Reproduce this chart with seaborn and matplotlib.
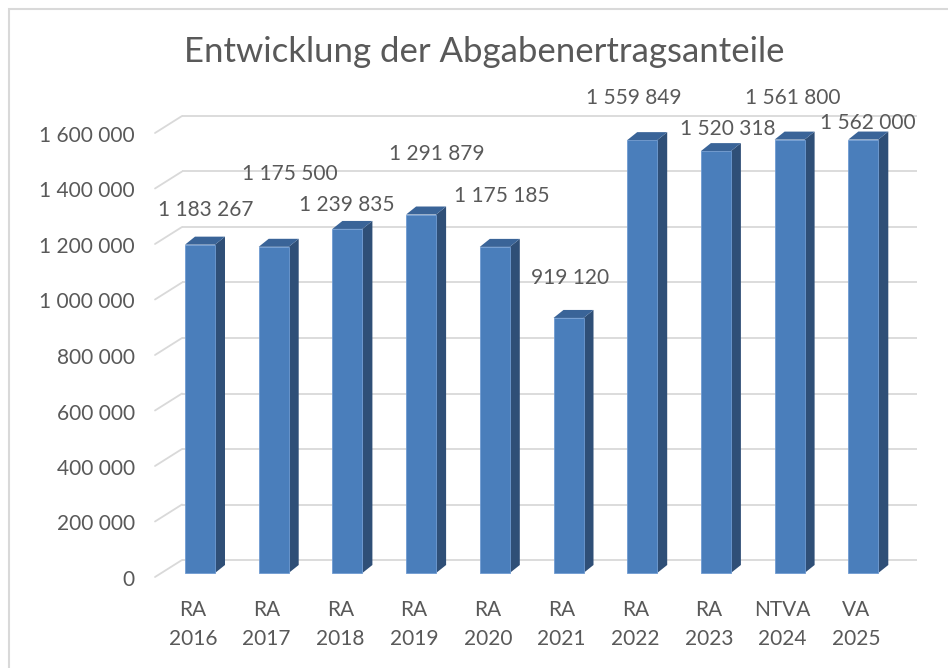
import numpy as np
import pandas as pd
import seaborn as sns
import matplotlib.pyplot as plt
from matplotlib.patches import Polygon, Rectangle

sns.set_theme(style='white')
plt.rcParams['font.family'] = ['Lato', 'DejaVu Sans']

# data
categories = ['RA\n2016', 'RA\n2017', 'RA\n2018', 'RA\n2019', 'RA\n2020',
              'RA\n2021', 'RA\n2022', 'RA\n2023', 'NTVA\n2024', 'VA\n2025']
values = [1183267, 1175500, 1239835, 1291879, 1175185,
          919120, 1559849, 1520318, 1561800, 1562000]
yticks = np.arange(0, 1600001, 200000)
title = 'Entwicklung der Abgabenertragsanteile'

# label offsets in pixels (x, y) relative to bar top centre
lab_off = [(6, 35), (16, 73), (-1, 24), (16, 61), (7, 51),
           (2, 40), (-8, 42), (12, 22), (3, 42), (5, 17)]

def fmt(v):
    return f'{v:,}'.replace(',', ' ')

W, H = 948, 668
fig = plt.figure(figsize=(W/100, H/100), dpi=100)
fig.patch.set_facecolor('white')

# pixel geometry
px_x = 73.7          # pixels per category
px_y = 277.5e-6      # pixels per unit value
x0_pix, base_pix = 200, 573
left, right, top, bottom = 150, 925, 100, 590
ax = fig.add_axes([left/W, (H-bottom)/H, (right-left)/W, (bottom-top)/H])

def dx(p):
    return p/px_x

def dy(p):
    return p/px_y

grid_c = '#d9d9d9'
txt_c = '#595959'
front_c = '#4a7ebb'
side_c = '#2f4f77'
top_c = '#3a6498'

# back wall gridlines with diagonal floor lines
gx_start = (182-x0_pix)/px_x
gx_end = (917-x0_pix)/px_x
gx_front = (155-x0_pix)/px_x
for t in yticks:
    yb = t + dy(13)
    yf = t - dy(4)
    ax.plot([gx_start, gx_end], [yb, yb], color=grid_c, lw=1.3, zorder=1,
            solid_capstyle='butt')
    ax.plot([gx_front, gx_start], [yf, yb], color=grid_c, lw=1.3, zorder=1)

bw = 30/px_x
df = pd.DataFrame({'cat': categories, 'val': values})
sns.barplot(data=df, x='cat', y='val', color=front_c, saturation=1,
            width=bw, ax=ax, zorder=3, edgecolor='#6f9bd2', linewidth=0.6)

sx, sy = dx(10), dy(8)
for i, v in enumerate(values):
    xr = i + bw/2
    xl = i - bw/2
    ax.add_patch(Polygon([(xr, 0), (xr+sx, sy), (xr+sx, v+sy), (xr, v)],
                         closed=True, facecolor=side_c, edgecolor='none', zorder=2.5))
    ax.add_patch(Polygon([(xl, v), (xr, v), (xr+sx, v+sy), (xl+sx, v+sy)],
                         closed=True, facecolor=top_c, edgecolor='none', zorder=3.5))
    ox, oy = lab_off[i]
    ax.annotate(fmt(v), xy=(i, v), xytext=(ox, oy), textcoords='offset pixels',
                ha='center', va='center', fontsize=15, color=txt_c, zorder=5)

ax.set_xticks(np.arange(len(categories)) - dx(7), categories)
ax.set_yticks(yticks - dy(5), [fmt(t) for t in yticks])
ax.tick_params(axis='x', length=0, pad=7, labelsize=15, labelcolor=txt_c)
ax.tick_params(axis='y', length=0, pad=11, labelsize=15, labelcolor=txt_c)
for lab in ax.get_xticklabels():
    lab.set_linespacing(1.6)
ax.set_xlabel('')
ax.set_ylabel('')
sns.despine(ax=ax, left=True, bottom=True)
ax.set_facecolor('none')

# limits after seaborn so the pixel geometry holds
ax.set_xlim((left-x0_pix)/px_x, (right-x0_pix)/px_x)
ax.set_ylim((base_pix-bottom)/px_y, (base_pix-top)/px_y)

fig.text(484/W, 1-52/H, title, ha='center', va='center', fontsize=25, color=txt_c)

# chart border
fig.patches.append(Rectangle((9/W, -0.1), 1.2, 1-9/H+0.1, transform=fig.transFigure,
                             fill=False, edgecolor=grid_c, lw=1.5))

fig.savefig('out.png', dpi=100)
